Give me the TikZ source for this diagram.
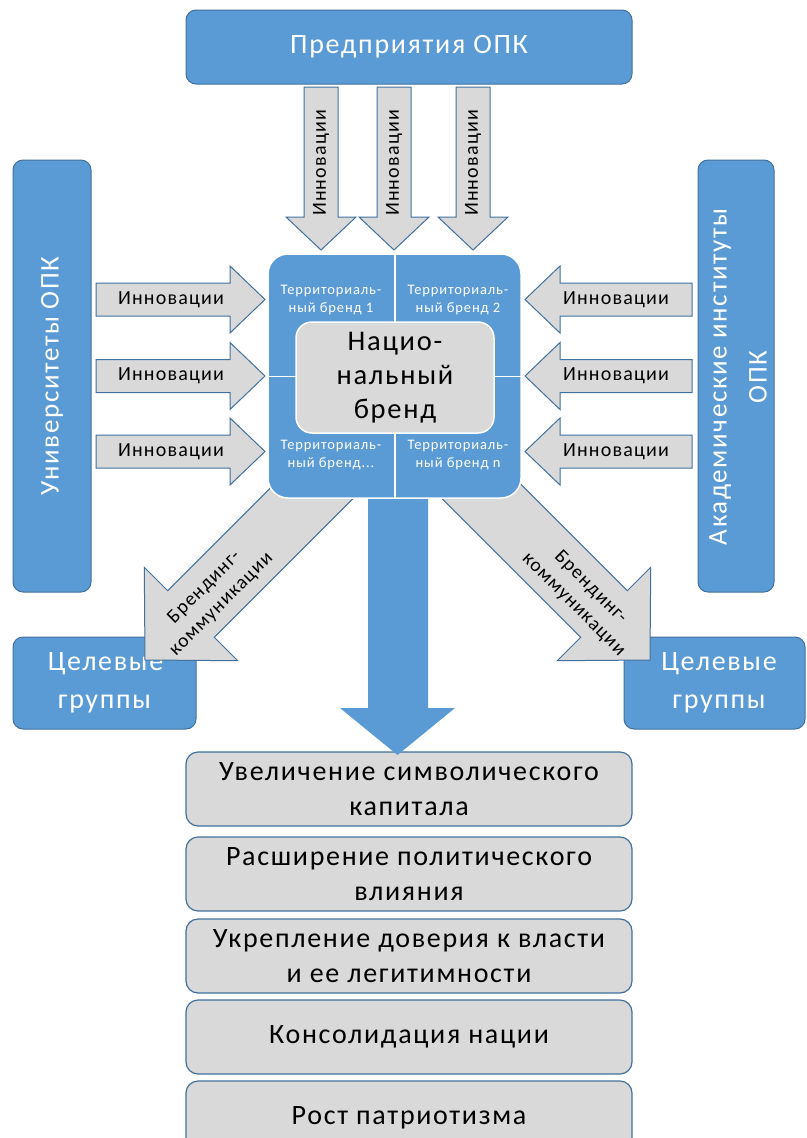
\documentclass[tikz,border=0pt]{standalone}
\usepackage{fontspec}
\setmainfont{Carlito}
\newfontfamily\spfont[LetterSpace=6]{Carlito}
\definecolor{bl}{HTML}{5B9BD5}
\definecolor{bd}{HTML}{41719C}
\definecolor{gr}{HTML}{D9D9D9}
\tikzset{
  bluebox/.style={draw=bd, fill=bl, rounded corners=10pt, line width=1pt, inner sep=0pt, text=white, align=center, font=\spfont\fontsize{28}{38}\selectfont},
  graybox/.style={draw=bd, fill=gr, rounded corners=12pt, line width=1.2pt, inner sep=0pt, text=black, align=center, minimum width=446pt, minimum height=74pt, font=\spfont\fontsize{28}{35}\selectfont},
  blockarr/.style={draw=bd, fill=gr, line width=1pt, line join=miter},
  innlbl/.style={text=black, font=\spfont\fontsize{20}{24}\selectfont, inner sep=0pt},
  brlbl/.style={text=black, font=\spfont\fontsize{19.5}{24}\selectfont, align=center, inner sep=0pt},
  terrlbl/.style={text=white, font=\spfont\fontsize{14.5}{18}\selectfont, align=center, inner sep=0pt},
}
\begin{document}
\begin{tikzpicture}[x=1pt,y=-1pt]
\clip (0,0) rectangle (806,1138);
\fill[white] (0,0) rectangle (806,1138);

% bottom result boxes
\node[graybox] (r1) at (409,789) {Увеличение символического\\капитала};
\node[graybox] (r2) at (409,874) {Расширение политического\\влияния};
\node[graybox] (r3) at (409,956) {Укрепление доверия к власти\\и ее легитимности};
\node[graybox] (r4) at (409,1037) {Консолидация нации};
\node[graybox] (r5) at (409,1118) {Рост патриотизма};

% target groups
\node[bluebox, minimum width=183pt, minimum height=92pt] (tg1) at (104.5,683) {\hspace*{2pt}Целевые\\группы};
\node[bluebox, minimum width=181pt, minimum height=92pt] (tg2) at (714.5,683) {\hspace*{9pt}Целевые\\\hspace*{9pt}группы};

% diagonal branding arrows
\draw[blockarr] (363.3,488.3) -- (214.3,637.3) -- (237.7,660.7) -- (145,660) -- (144.3,567.3) -- (167.7,590.7) -- (316.7,441.7) -- cycle;
\draw[blockarr] (431.7,488.3) -- (580.7,637.3) -- (557.3,660.7) -- (650,660) -- (650.7,567.3) -- (627.3,590.7) -- (478.3,441.7) -- cycle;
\node[brlbl, rotate=45] (bl1) at (213,596) {Брендинг-\\коммуникации};
\node[brlbl, rotate=-45] (bl2) at (582,596) {Брендинг-\\коммуникации};

% big blue arrow
\fill[bl] (368,480) -- (428,480) -- (428,708) -- (455,708) -- (397.5,755) -- (340,708) -- (368,708) -- cycle;

% central brand matrix
\node[draw=white, fill=bl, rounded corners=20pt, line width=1.5pt, minimum width=253pt, minimum height=244pt, inner sep=0pt] (cb) at (394.5,376) {};
\draw[white, line width=1.5pt] (395,254) -- (395,498);
\draw[white, line width=1.5pt] (268,376.5) -- (521,376.5);
\node[terrlbl] (t1) at (331,300) {Территориаль-\\ный бренд 1};
\node[terrlbl] (t2) at (458,300) {Территориаль-\\ный бренд 2};
\node[terrlbl] (t3) at (331,455) {Территориаль-\\ный бренд...};
\node[terrlbl] (t4) at (458,455) {Территориаль-\\ный бренд n};
\node[draw=white, fill=gr, rounded corners=16pt, line width=1.5pt, minimum width=198pt, minimum height=111pt, inner sep=0pt, align=center, font=\spfont\fontsize{28.5}{34}\selectfont] (nb) at (395,377.5) {Нацио-\\нальный\\бренд};

% top box and down arrows
\node[bluebox, minimum width=446pt, minimum height=74pt] (top) at (409,47) {Предприятия ОПК};
\foreach \c in {321,394,473}{
  \draw[blockarr] (\c-17,87) -- (\c+17,87) -- (\c+17,217) -- (\c+35,217) -- (\c,250) -- (\c-35,217) -- (\c-17,217) -- cycle;
  \node[innlbl, rotate=90] at (\c,163) {Инновации};
}

% side boxes
\node[bluebox, minimum width=78pt, minimum height=432pt] (uni) at (52,376) {};
\node[text=white, rotate=90, font=\spfont\fontsize{27}{34}\selectfont] (unit) at (uni.center) {Университеты ОПК};
\node[bluebox, minimum width=76pt, minimum height=432pt] (aca) at (736,376) {};
\node[text=white, rotate=90, align=center, font=\spfont\fontsize{27}{40}\selectfont] (acat) at (738,377) {Академические институты\\ОПК};

% horizontal arrows
\foreach \c in {299.5,376,451.5}{
  \draw[blockarr] (96,\c-16.5) -- (230,\c-16.5) -- (230,\c-33.5) -- (265,\c) -- (230,\c+33.5) -- (230,\c+16.5) -- (96,\c+16.5) -- cycle;
  \node[innlbl] at (171,\c) {Инновации};
  \draw[blockarr] (692,\c-16.5) -- (560,\c-16.5) -- (560,\c-33.5) -- (525,\c) -- (560,\c+33.5) -- (560,\c+16.5) -- (692,\c+16.5) -- cycle;
  \node[innlbl] at (616,\c) {Инновации};
}
\end{tikzpicture}
\end{document}
